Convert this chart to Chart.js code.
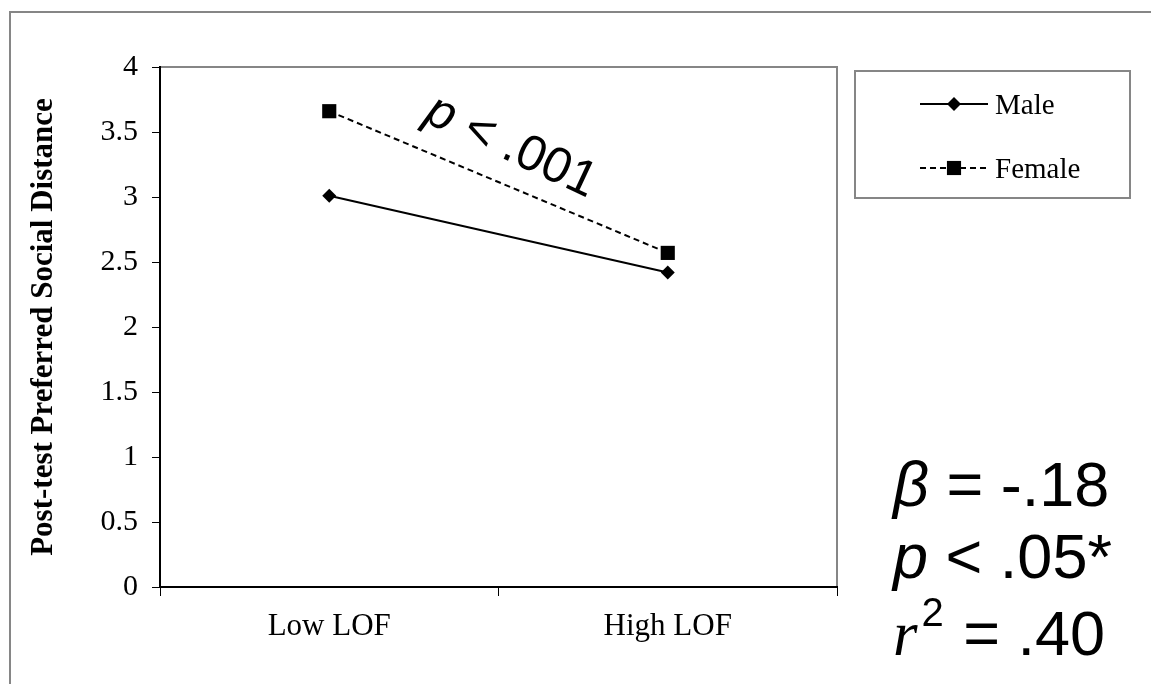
<!DOCTYPE html>
<html>
<head>
<meta charset="utf-8">
<script src="https://cdn.jsdelivr.net/npm/chart.js@4/dist/chart.umd.min.js"></script>
<style>
  html, body { margin: 0; padding: 0; background: #fff; }
  canvas { display: block; }
</style>
</head>
<body>
<canvas id="chart" width="1151" height="684"></canvas>
<script>
// Data
const categories = ['Low LOF', 'High LOF'];
const maleValues = [3.01, 2.42];
const femaleValues = [3.66, 2.57];
const yMin = 0;
const yMax = 4;
const yStep = 0.5;

const serif = '"Liberation Serif", "Times New Roman", serif';
const sans = '"Liberation Sans", Arial, sans-serif';
const frameGray = '#868686';

// Draw a single marker in the legend using the dataset's style
function drawMarker(ctx, style, x, y, r) {
    ctx.beginPath();
    if (style === 'rect') {
        const h = r * Math.SQRT1_2;
        ctx.rect(x - h, y - h, 2 * h, 2 * h);
    } else {
        ctx.moveTo(x, y - r);
        ctx.lineTo(x + r, y);
        ctx.lineTo(x, y + r);
        ctx.lineTo(x - r, y);
        ctx.closePath();
    }
    ctx.fill();
}

// Outer frame and plot frame
const framePlugin = {
    id: 'frame',
    beforeDraw(chart) {
        const { ctx, chartArea } = chart;
        ctx.save();
        ctx.strokeStyle = frameGray;
        ctx.lineWidth = 2;
        ctx.beginPath();
        ctx.moveTo(10, chart.height);
        ctx.lineTo(10, 12);
        ctx.lineTo(chart.width, 12);
        ctx.stroke();

        ctx.beginPath();
        ctx.moveTo(chartArea.left, chartArea.top);
        ctx.lineTo(chartArea.right, chartArea.top);
        ctx.lineTo(chartArea.right, chartArea.bottom);
        ctx.stroke();
        ctx.restore();
    }
};

const legendPlugin = {
    id: 'boxLegend',
    afterDraw(chart) {
        const { ctx } = chart;
        const box = { x: 855, y: 71, w: 275, h: 127 };
        ctx.save();
        ctx.strokeStyle = frameGray;
        ctx.lineWidth = 2;
        ctx.strokeRect(box.x, box.y, box.w, box.h);

        const rows = [104, 168];
        chart.data.datasets.forEach((ds, i) => {
            const y = rows[i];
            ctx.strokeStyle = ds.borderColor;
            ctx.fillStyle = ds.pointBackgroundColor;
            ctx.lineWidth = ds.borderWidth;
            ctx.setLineDash(ds.borderDash || []);
            ctx.beginPath();
            ctx.moveTo(920, y);
            ctx.lineTo(988, y);
            ctx.stroke();
            ctx.setLineDash([]);
            drawMarker(ctx, ds.pointStyle, 954, y, ds.pointRadius);

            ctx.fillStyle = '#000';
            ctx.font = '29px ' + serif;
            ctx.textBaseline = 'middle';
            ctx.textAlign = 'left';
            ctx.fillText(ds.label, 995, y + 2);
        });
        ctx.restore();
    }
};

// Draw "italic part + upright part" on one baseline, returns end x
function mixedText(ctx, x, y, italic, upright, size, italicFamily) {
    ctx.font = 'italic ' + size + 'px ' + (italicFamily || sans);
    ctx.fillText(italic, x, y);
    const w = ctx.measureText(italic).width;
    ctx.font = size + 'px ' + sans;
    ctx.fillText(upright, x + w, y);
    return x + w + ctx.measureText(upright).width;
}

// Rotated p-value along the female line and the regression summary
const notesPlugin = {
    id: 'notes',
    afterDraw(chart) {
        const { ctx } = chart;
        ctx.save();
        ctx.fillStyle = '#000';

        ctx.translate(511, 147);
        ctx.rotate(25 * Math.PI / 180);
        ctx.textBaseline = 'middle';
        ctx.textAlign = 'left';
        ctx.font = 'italic 50px ' + sans;
        const pw = ctx.measureText('p').width;
        ctx.font = '50px ' + sans;
        const total = pw + ctx.measureText(' < .001').width;
        mixedText(ctx, -total / 2, 0, 'p', ' < .001', 50);
        ctx.setTransform(1, 0, 0, 1, 0, 0);

        ctx.textBaseline = 'alphabetic';
        const x0 = 893;
        const size = 63;

        mixedText(ctx, x0, 506, 'β', ' = -.18', size);
        mixedText(ctx, x0, 578, 'p', ' < .05*', size);

        ctx.font = 'italic ' + size + 'px ' + serif;
        ctx.fillText('r', x0, 655);
        const w = ctx.measureText('r').width;
        ctx.font = '40px ' + sans;
        ctx.fillText('2', x0 + w + 4, 626);
        const w2 = ctx.measureText('2').width;
        ctx.font = size + 'px ' + sans;
        ctx.fillText(' = .40', x0 + w + w2 + 6, 655);
        ctx.restore();
    }
};

const ctx = document.getElementById('chart').getContext('2d');
const chart = new Chart(ctx, {
    type: 'line',
    data: {
        labels: categories,
        datasets: [
            {
                label: 'Male',
                data: maleValues,
                borderColor: '#000',
                borderWidth: 2,
                pointStyle: 'rectRot',
                pointRadius: 7,
                pointBorderWidth: 0,
                pointBackgroundColor: '#000',
                pointBorderColor: '#000',
                tension: 0,
                fill: false
            },
            {
                label: 'Female',
                data: femaleValues,
                borderColor: '#000',
                borderWidth: 2,
                borderDash: [6, 4],
                pointStyle: 'rect',
                pointRadius: 10,
                pointBorderWidth: 0,
                pointBackgroundColor: '#000',
                pointBorderColor: '#000',
                tension: 0,
                fill: false
            }
        ]
    },
    options: {
        responsive: false,
        animation: false,
        events: [],
        layout: {
            padding: { top: 67, right: 314, left: 0, bottom: 0 }
        },
        plugins: {
            legend: { display: false },
            tooltip: { enabled: false }
        },
        scales: {
            x: {
                type: 'category',
                offset: true,
                afterFit(scale) { scale.height = 97; },
                grid: {
                    offset: true,
                    drawOnChartArea: false,
                    drawTicks: true,
                    tickLength: 9,
                    color: '#000',
                    lineWidth: 1
                },
                border: { color: '#000', width: 2 },
                ticks: {
                    color: '#000',
                    padding: 12,
                    font: { family: serif, size: 31 }
                }
            },
            y: {
                min: yMin,
                max: yMax,
                afterFit(scale) { scale.width = 160; },
                grid: {
                    drawOnChartArea: false,
                    drawTicks: true,
                    tickLength: 8,
                    color: '#000',
                    lineWidth: 1
                },
                border: { color: '#000', width: 2 },
                ticks: {
                    stepSize: yStep,
                    color: '#000',
                    padding: 14,
                    font: { family: serif, size: 30 },
                    callback: (v) => String(v)
                },
                title: {
                    display: true,
                    text: 'Post-test Preferred Social Distance',
                    color: '#000',
                    padding: { top: 25, bottom: 0 },
                    font: { family: serif, size: 31, weight: 'bold' }
                }
            }
        }
    },
    plugins: [framePlugin, legendPlugin, notesPlugin]
});
</script>
</body>
</html>
